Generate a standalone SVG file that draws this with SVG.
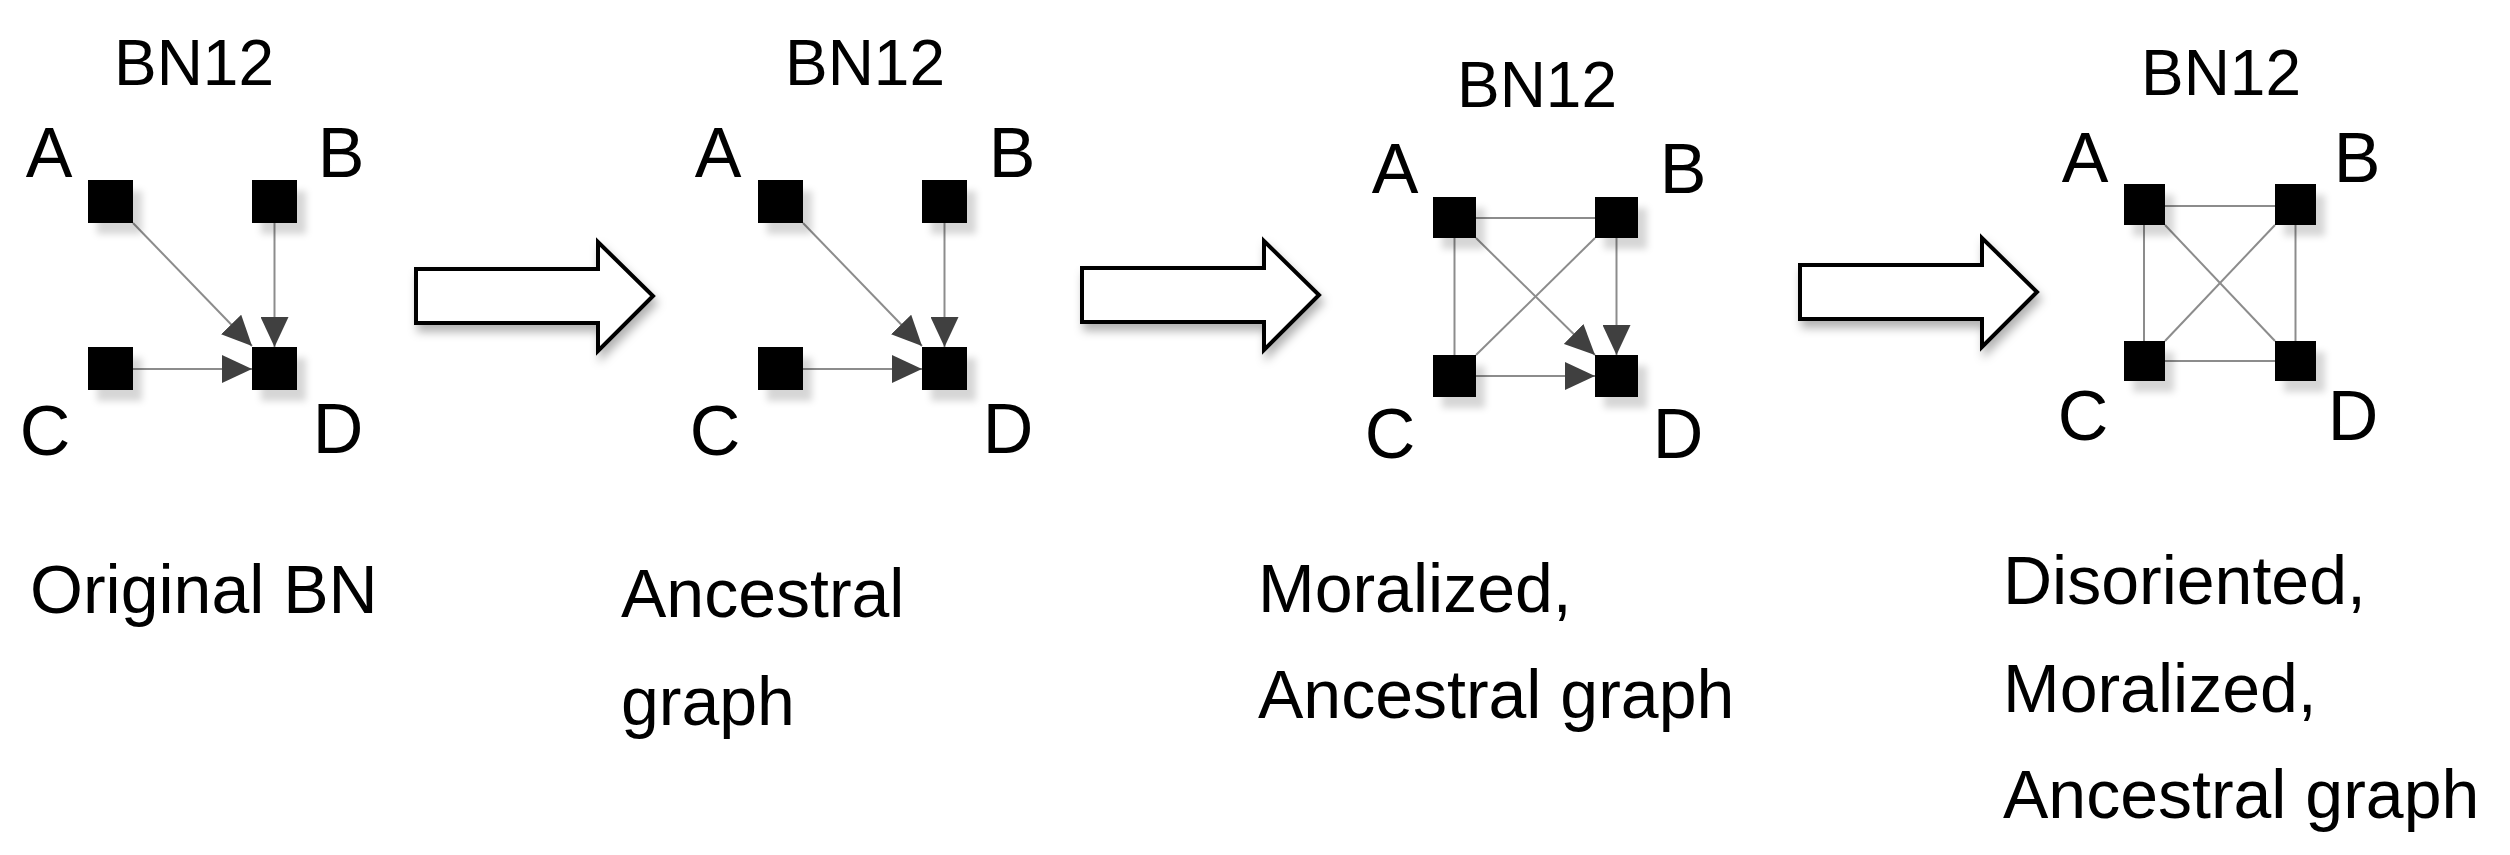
<svg xmlns="http://www.w3.org/2000/svg" width="2510" height="855" viewBox="0 0 2510 855">
<style>
  text { font-family: "Liberation Sans", Arial, sans-serif; fill: #000; }
  .title { font-size: 64px; text-anchor: middle; }
  .lbl { font-size: 70px; text-anchor: middle; }
  .cap { font-size: 68px; }
  .node { fill: #000; filter: url(#sh); }
  .edge { stroke: #8c8c8c; stroke-width: 2; fill: none; }
  .dir { marker-end: url(#ah); }
  .big { fill: #fff; stroke: #000; stroke-width: 4; stroke-linejoin: miter; filter: url(#bsh); }
</style>
<defs>
  <filter id="sh" x="-50%" y="-50%" width="200%" height="200%">
    <feDropShadow dx="9" dy="11" stdDeviation="3.5" flood-color="#000" flood-opacity="0.16"/>
  </filter>
  <filter id="bsh" x="-20%" y="-40%" width="140%" height="180%">
    <feDropShadow dx="3" dy="7" stdDeviation="5" flood-color="#000" flood-opacity="0.3"/>
  </filter>
  <marker id="ah" markerUnits="userSpaceOnUse" markerWidth="30" markerHeight="28" viewBox="0 0 30 28" refX="30" refY="14" orient="auto">
    <path d="M0,0 L30,14 L0,28 z" fill="#404040"/>
  </marker>
  <path id="bigArrow" d="M0,-27 L182,-27 L182,-54 L237,0 L182,55 L182,27 L0,27 Z"/>
</defs>
<rect width="2510" height="855" fill="#fff"/>

<!-- connectors -->
<g id="connectors">
  <!-- panel 1 -->
  <line class="edge dir" x1="133" y1="223" x2="252" y2="346"/>
  <line class="edge dir" x1="274.5" y1="223" x2="274.5" y2="347"/>
  <line class="edge dir" x1="133" y1="369" x2="252" y2="369"/>
  <!-- panel 2 -->
  <line class="edge dir" x1="803" y1="223" x2="922" y2="346"/>
  <line class="edge dir" x1="944.5" y1="223" x2="944.5" y2="347"/>
  <line class="edge dir" x1="803" y1="369" x2="922" y2="369"/>
  <!-- panel 3 -->
  <line class="edge" x1="1476" y1="218" x2="1595" y2="218"/>
  <line class="edge" x1="1454.5" y1="238" x2="1454.5" y2="355"/>
  <line class="edge" x1="1476" y1="355" x2="1595" y2="238"/>
  <line class="edge dir" x1="1476" y1="238" x2="1595" y2="355"/>
  <line class="edge dir" x1="1616.5" y1="238" x2="1616.5" y2="355"/>
  <line class="edge dir" x1="1476" y1="376" x2="1595" y2="376"/>
  <!-- panel 4 -->
  <line class="edge" x1="2165" y1="206" x2="2275" y2="206"/>
  <line class="edge" x1="2165" y1="361" x2="2275" y2="361"/>
  <line class="edge" x1="2144" y1="225" x2="2144" y2="341"/>
  <line class="edge" x1="2295.5" y1="225" x2="2295.5" y2="341"/>
  <line class="edge" x1="2165" y1="225" x2="2275" y2="341"/>
  <line class="edge" x1="2275" y1="225" x2="2165" y2="341"/>
</g>

<!-- transition arrows -->
<g id="transitions">
  <use href="#bigArrow" class="big" x="416" y="296"/>
  <use href="#bigArrow" class="big" x="1082" y="295"/>
  <use href="#bigArrow" class="big" x="1800" y="292"/>
</g>

<!-- panel 1: Original BN -->
<g id="p1-title"><text class="title" x="194" y="85">BN12</text></g>
<g id="p1-A"><rect class="node" x="88" y="180" width="45" height="43"/><text class="lbl" x="49" y="177">A</text></g>
<g id="p1-B"><rect class="node" x="252" y="180" width="45" height="43"/><text class="lbl" x="341" y="177">B</text></g>
<g id="p1-C"><rect class="node" x="88" y="347" width="45" height="43"/><text class="lbl" x="45" y="455">C</text></g>
<g id="p1-D"><rect class="node" x="252" y="347" width="45" height="43"/><text class="lbl" x="338" y="453">D</text></g>
<g id="p1-caption"><text class="cap" x="30" y="613">Original BN</text></g>

<!-- panel 2: Ancestral graph -->
<g id="p2-title"><text class="title" x="865" y="85">BN12</text></g>
<g id="p2-A"><rect class="node" x="758" y="180" width="45" height="43"/><text class="lbl" x="718" y="177">A</text></g>
<g id="p2-B"><rect class="node" x="922" y="180" width="45" height="43"/><text class="lbl" x="1012" y="177">B</text></g>
<g id="p2-C"><rect class="node" x="758" y="347" width="45" height="43"/><text class="lbl" x="715" y="455">C</text></g>
<g id="p2-D"><rect class="node" x="922" y="347" width="45" height="43"/><text class="lbl" x="1008" y="453">D</text></g>
<g id="p2-caption"><text class="cap" x="621" y="617">Ancestral</text><text class="cap" x="621" y="725">graph</text></g>

<!-- panel 3: Moralized, Ancestral graph -->
<g id="p3-title"><text class="title" x="1537" y="107">BN12</text></g>
<g id="p3-A"><rect class="node" x="1433" y="197" width="43" height="41"/><text class="lbl" x="1395" y="193">A</text></g>
<g id="p3-B"><rect class="node" x="1595" y="197" width="43" height="41"/><text class="lbl" x="1683" y="193">B</text></g>
<g id="p3-C"><rect class="node" x="1433" y="355" width="43" height="42"/><text class="lbl" x="1390" y="458">C</text></g>
<g id="p3-D"><rect class="node" x="1595" y="355" width="43" height="42"/><text class="lbl" x="1678" y="458">D</text></g>
<g id="p3-caption"><text class="cap" x="1258" y="612">Moralized,</text><text class="cap" x="1258" y="718">Ancestral graph</text></g>

<!-- panel 4: Disoriented, Moralized, Ancestral graph -->
<g id="p4-title"><text class="title" x="2221" y="95">BN12</text></g>
<g id="p4-A"><rect class="node" x="2124" y="184" width="41" height="41"/><text class="lbl" x="2085" y="182">A</text></g>
<g id="p4-B"><rect class="node" x="2275" y="184" width="41" height="41"/><text class="lbl" x="2357" y="182">B</text></g>
<g id="p4-C"><rect class="node" x="2124" y="341" width="41" height="40"/><text class="lbl" x="2083" y="440">C</text></g>
<g id="p4-D"><rect class="node" x="2275" y="341" width="41" height="40"/><text class="lbl" x="2353" y="440">D</text></g>
<g id="p4-caption"><text class="cap" x="2003" y="604">Disoriented,</text><text class="cap" x="2003" y="712">Moralized,</text><text class="cap" x="2003" y="818">Ancestral graph</text></g>
</svg>
